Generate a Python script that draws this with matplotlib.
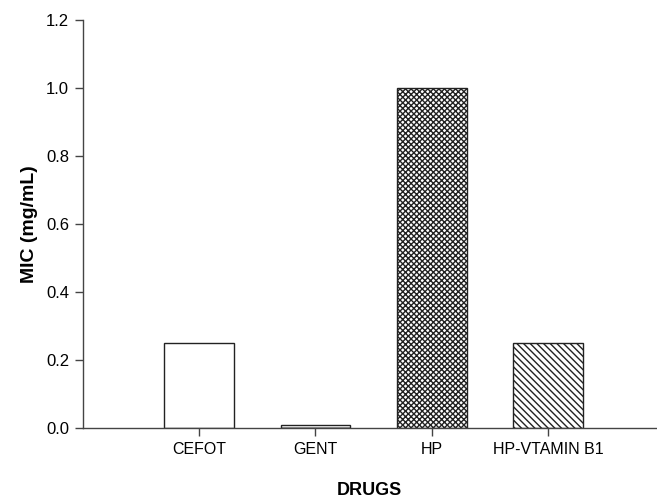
import matplotlib.pyplot as plt

plt.rcParams['font.family'] = ['Liberation Sans', 'DejaVu Sans']
plt.rcParams['hatch.linewidth'] = 1.0

drugs = ['CEFOT', 'GENT', 'HP', 'HP-VTAMIN B1']
mic = [0.25, 0.008, 1.0, 0.25]
hatches = ['', '-----', 'xxxxxx', '\\\\\\\\\\']

fig = plt.figure(figsize=(6.57, 5.0), dpi=100)
ax = fig.add_axes([83 / 657, 72 / 500, 573 / 657, 408 / 500])

positions = [1, 2, 3, 4]
for x, val, h in zip(positions, mic, hatches):
    ax.bar(x, val, width=0.6, color='white', edgecolor='#222222',
           linewidth=1.0, hatch=h)

ax.set_xlim(0, 4.93)
ax.set_ylim(0, 1.2)
ax.set_xticks(positions)
ax.set_xticklabels(drugs, fontsize=11.5)
ax.set_yticks([0.0, 0.2, 0.4, 0.6, 0.8, 1.0, 1.2])
ax.set_yticklabels(['0.0', '0.2', '0.4', '0.6', '0.8', '1.0', '1.2'], fontsize=12)

for s in ['top', 'right']:
    ax.spines[s].set_visible(False)
for s in ['left', 'bottom']:
    ax.spines[s].set_color('#444444')
    ax.spines[s].set_linewidth(1.0)
ax.tick_params(direction='out', length=6, width=1, color='#444444', pad=4)

ax.set_ylabel('MIC (mg/mL)', fontsize=14, fontweight='bold', labelpad=6)
ax.set_xlabel('DRUGS', fontsize=13, fontweight='bold', labelpad=18)

plt.savefig('out.png', dpi=100)
